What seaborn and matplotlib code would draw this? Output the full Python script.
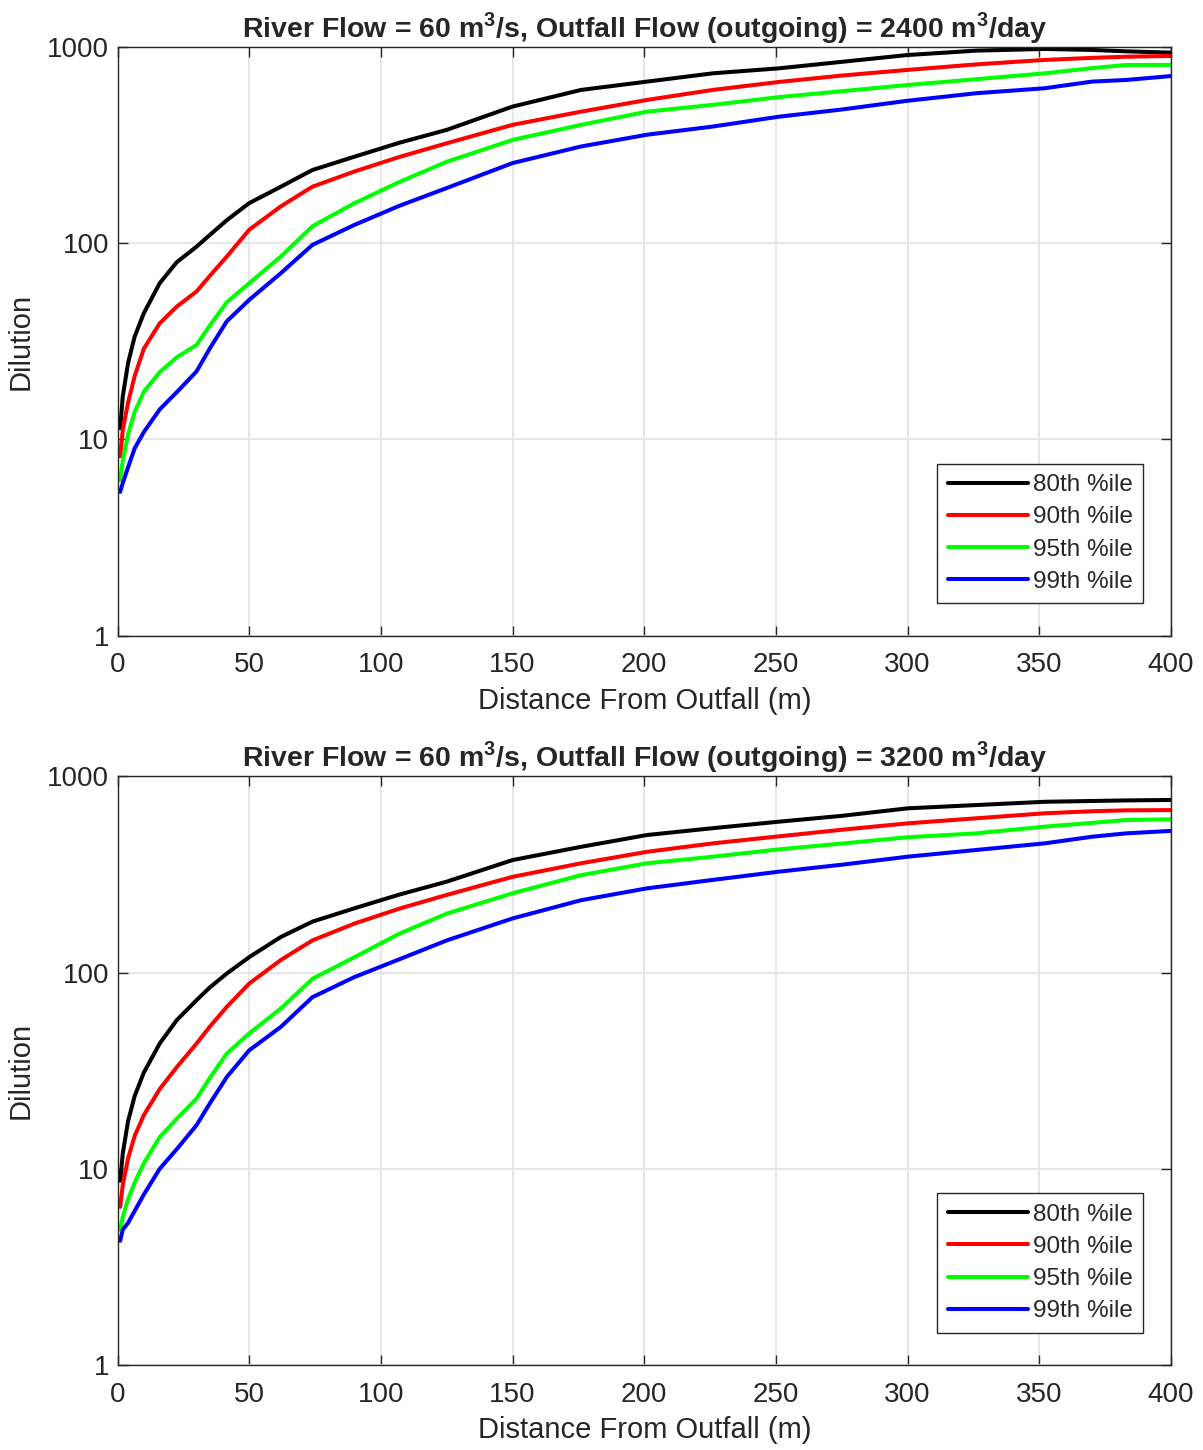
import numpy as np
import pandas as pd
import seaborn as sns
import matplotlib.pyplot as plt
from matplotlib.ticker import FixedLocator, FixedFormatter

sns.set_style("ticks")
plt.rcParams["font.family"] = ["Liberation Sans", "DejaVu Sans"]
plt.rcParams["mathtext.fontset"] = "custom"
plt.rcParams["mathtext.rm"] = "Liberation Sans"
plt.rcParams["mathtext.bf"] = "Liberation Sans:bold"

distance = [1, 2, 4, 6.5, 10, 16, 22.5, 30, 35, 41.5, 50, 62, 74, 90, 107, 125, 150, 176,
            201, 226, 251, 275, 300, 326, 352, 370, 383, 400]

percentiles = ["80th %ile", "90th %ile", "95th %ile", "99th %ile"]
line_colors = ["#000000", "#ff0000", "#00ff00", "#0000ff"]

# outfall flow 2400 m3/day
d2400_p80 = [11.4, 16.6, 24.5, 33.4, 44, 62.5, 80, 96, 110, 131, 160, 194, 236, 276, 325, 378,
             497, 604, 666, 734, 778, 840, 910, 958, 977, 966, 950, 936]
d2400_p90 = [8.2, 11.2, 15.4, 21, 29, 39, 47.5, 56.7, 68, 85.5, 117, 154, 194, 232, 275, 323,
             401, 468, 537, 604, 663, 715, 764, 815, 859, 880, 892, 900]
d2400_p95 = [6.2, 7.8, 10.6, 13.8, 17.5, 22, 26.2, 30.3, 38, 50, 62.5, 85.5, 122, 160, 205, 260,
             336, 401, 468, 507, 555, 595, 640, 685, 734, 780, 810, 810]
d2400_p99 = [5.4, 6.0, 7.2, 9.0, 10.9, 14.2, 17.4, 22.2, 29, 40, 51.4, 70.3, 98, 124, 155, 191,
             256, 311, 357, 393, 441, 480, 532, 581, 616, 666, 679, 711]

# outfall flow 3200 m3/day
d3200_p80 = [8.7, 12, 17.5, 23.5, 31, 43.5, 57.3, 72.4, 84, 99, 120, 152, 182, 213, 250, 291,
             375, 438, 503, 545, 588, 630, 688, 715, 743, 750, 755, 759]
d3200_p90 = [6.4, 8.3, 11.3, 14.7, 18.8, 25.5, 33, 43.5, 53, 67, 88, 116, 146, 178, 212, 249,
             308, 361, 413, 456, 495, 535, 577, 612, 649, 665, 672, 674]
d3200_p95 = [4.9, 5.7, 7.0, 8.5, 10.7, 14.5, 18, 22.8, 29, 38.7, 49, 65.7, 93, 120, 158, 200,
             254, 314, 361, 390, 425, 455, 490, 513, 555, 580, 600, 605]
d3200_p99 = [4.3, 4.9, 5.3, 6.1, 7.4, 10, 12.6, 16.7, 21.5, 29.4, 40.2, 52.9, 75, 95, 117, 146,
             189, 234, 269, 297, 327, 355, 390, 422, 456, 493, 513, 528]

panels = [
    ("2400", [d2400_p80, d2400_p90, d2400_p95, d2400_p99]),
    ("3200", [d3200_p80, d3200_p90, d3200_p95, d3200_p99]),
]


def long_frame(series):
    rows = []
    for name, vals in zip(percentiles, series):
        for x, v in zip(distance, vals):
            rows.append({"distance": x, "dilution": v, "percentile": name})
    return pd.DataFrame(rows)


fig = plt.figure(figsize=(12.03, 14.5), dpi=100)
axes = [fig.add_axes([0.0977, 0.5617, 0.8757, 0.4059]),
        fig.add_axes([0.0977, 0.0586, 0.8757, 0.4059])]

for ax, (flow, series) in zip(axes, panels):
    df = long_frame(series)
    sns.lineplot(data=df, x="distance", y="dilution", hue="percentile",
                 palette=line_colors, hue_order=percentiles, estimator=None,
                 linewidth=2.9, ax=ax)
    ax.set_yscale("log")
    ax.set_xlim(0, 400)
    ax.set_ylim(1, 1000)
    ax.xaxis.set_major_locator(FixedLocator(np.arange(0, 401, 50)))
    ax.yaxis.set_major_locator(FixedLocator([1, 10, 100, 1000]))
    ax.yaxis.set_major_formatter(FixedFormatter(["1", "10", "100", "1000"]))
    ax.yaxis.set_minor_locator(FixedLocator([]))
    ax.grid(True, which="major", color="#e3e3e3", linewidth=1.2)
    ax.set_axisbelow(True)
    for s in ax.spines.values():
        s.set_color("#262626")
        s.set_linewidth(1.0)
        s.set_visible(True)
    ax.tick_params(axis="both", which="major", direction="in", length=7, width=1.0,
                   top=True, right=True, labelsize=20, colors="#262626")
    ax.tick_params(axis="x", pad=12)
    ax.tick_params(axis="y", pad=6)
    ax.set_xlabel("Distance From Outfall (m)", fontsize=21, labelpad=6, color="#262626")
    ax.set_ylabel("Dilution", fontsize=21, color="#262626")
    ax.yaxis.set_label_coords(-0.079, 0.5)
    ax.set_title(r"River Flow = 60 m$^\mathbf{3}$/s, Outfall Flow (outgoing) = "
                 + flow + r" m$^\mathbf{3}$/day",
                 fontsize=20.5, fontweight="bold", pad=7)
    leg = ax.legend(loc="lower right", bbox_to_anchor=(0.9734, 0.0552), fontsize=17.5,
                    handlelength=3.3, handletextpad=0.2, labelspacing=0.42,
                    borderpad=0.42, borderaxespad=0, fancybox=False, framealpha=1)
    leg.get_frame().set_edgecolor("#262626")
    leg.get_frame().set_linewidth(1.0)
    for line in leg.get_lines():
        line.set_linewidth(2.9)

fig.savefig("out.png", dpi=100, facecolor="white")
